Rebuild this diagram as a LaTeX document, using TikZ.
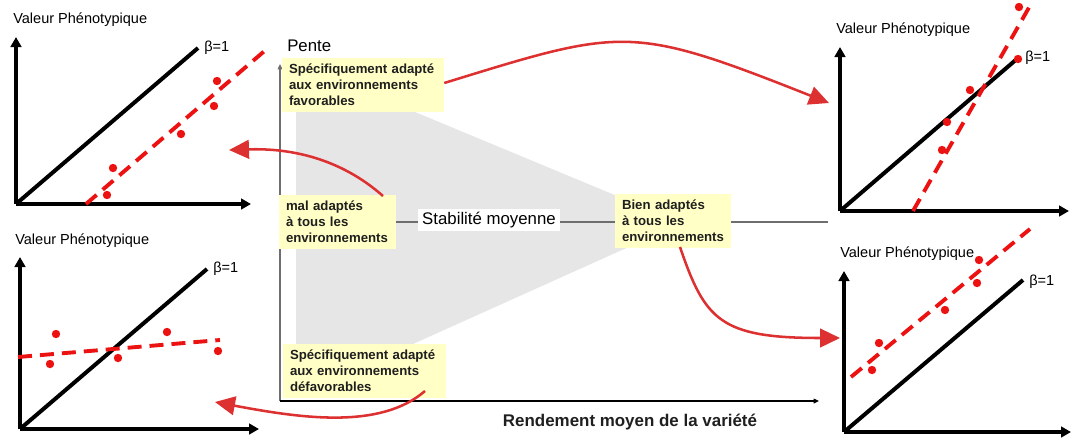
\documentclass[tikz,border=0pt]{standalone}
\usepackage{fontspec}
\setmainfont{Liberation Sans}
\usetikzlibrary{arrows.meta}
\pgfdeclarelayer{bg}
\pgfsetlayers{bg,main}
\definecolor{boxyellow}{HTML}{FFFFC6}
\definecolor{areagray}{HTML}{E6E6E6}
\definecolor{curvered}{RGB}{221,48,48}
\definecolor{dotred}{RGB}{236,18,18}
\definecolor{axisgray}{HTML}{6E6E6E}
\begin{document}
\begin{tikzpicture}[x=0.75pt,y=-0.75pt,
  plotaxis/.style={line width=3pt,-{Triangle[length=7.5pt,width=8pt]}},
  refline/.style={line width=3pt},
  fitline/.style={dotred,line width=2.9pt,dash pattern=on 10.5pt off 6pt},
  obsdot/.style={circle,fill=dotred,inner sep=0pt,minimum size=6.3pt},
  plotlabel/.style={font=\fontsize{10.9}{13}\selectfont,inner sep=0pt,anchor=west},
  infobox/.style={fill=boxyellow,font=\bfseries\fontsize{9.9}{12}\selectfont,align=left,
    inner xsep=5.25pt,inner ysep=2pt,minimum height=40.5pt,text=black!88},
  redarrow/.style={curvered,line width=1.9pt,-{Triangle[length=15pt,width=14pt]}},
  mainaxis/.style={line width=0.9pt,-{Triangle[length=4pt,width=3.5pt]}}
]
\useasboundingbox (0,0) rectangle (1079,444);

% ---------------- central diagram ----------------
\node[infobox,text width=111pt] (fav) at (363,85)
  {Spécifiquement adapté\\aux environnements\\favorables};
\node[infobox,text width=77.25pt] (mal) at (337.5,222)
  {mal adaptés\\à tous les\\environnements};
\node[fill=white,inner xsep=3pt,inner ysep=2pt,font=\fontsize{12.6}{14}\selectfont] (stab) at (489,220)
  {Stabilité moyenne};
\node[infobox,text width=76.5pt] (bien) at (673,220.5)
  {Bien adaptés\\à tous les\\environnements};
\node[infobox,text width=111.75pt] (defav) at (364.5,371)
  {Spécifiquement adapté\\aux environnements\\défavorables};

\coordinate (lineend) at (828,222);
\coordinate (orig) at (280,401);
\coordinate (ytop) at (280,64);
\coordinate (xend) at (819,401);

\begin{pgfonlayer}{bg}
  \fill[areagray] (296,112) -- (415,112) -- (682,223) -- (413,344) -- (296,344) -- cycle;
  \draw[axisgray,line width=1.2pt] (mal.east) -- (lineend);
  \draw[mainaxis,axisgray] (orig) -- (ytop);
  \draw[mainaxis,black] (orig) -- (xend);
\end{pgfonlayer}

\node[font=\fontsize{12.6}{14}\selectfont,inner sep=0pt,anchor=west] (pente) at (287,46) {Pente};
\node[font=\bfseries\fontsize{12.7}{15}\selectfont,inner sep=0pt,text=black!88] (rend) at (630,422)
  {Rendement moyen de la variété};

% ---------------- top-left plot ----------------
\coordinate (o1) at (16,204);
\coordinate (y1) at (16,37);
\coordinate (x1) at (251,204);
\coordinate (r1) at (198,48);
\coordinate (f1a) at (86,204);
\coordinate (f1b) at (268,48);
\draw[plotaxis] (o1) -- (y1);
\draw[plotaxis] (o1) -- (x1);
\draw[refline] (o1) -- (r1);
\draw[fitline] (f1a) -- (f1b);
\node[obsdot] (d1a) at (113,168) {};
\node[obsdot] (d1b) at (107,195) {};
\node[obsdot] (d1c) at (181,134) {};
\node[obsdot] (d1d) at (214,106) {};
\node[obsdot] (d1e) at (217,81) {};
\node[plotlabel] (b1) at (204,48) {β=1};
\node[plotlabel] (v1) at (13,20) {Valeur Phénotypique};

% ---------------- bottom-left plot ----------------
\coordinate (o2) at (20,429);
\coordinate (y2) at (20,257);
\coordinate (x2) at (259,429);
\coordinate (r2) at (207,269);
\coordinate (f2a) at (18,357);
\coordinate (f2b) at (220,340);
\draw[plotaxis] (o2) -- (y2);
\draw[plotaxis] (o2) -- (x2);
\draw[refline] (o2) -- (r2);
\draw[fitline] (f2a) -- (f2b);
\node[obsdot] (d2a) at (56,334) {};
\node[obsdot] (d2b) at (50,364) {};
\node[obsdot] (d2c) at (118,358) {};
\node[obsdot] (d2d) at (167,332) {};
\node[obsdot] (d2e) at (218,351) {};
\node[plotlabel] (b2) at (213,269) {β=1};
\node[plotlabel] (v2) at (15,241) {Valeur Phénotypique};

% ---------------- top-right plot ----------------
\coordinate (o3) at (840,211);
\coordinate (y3) at (840,47);
\coordinate (x3) at (1069,211);
\coordinate (r3) at (1018,58);
\coordinate (f3a) at (913,211);
\coordinate (f3b) at (1031,4);
\draw[plotaxis] (o3) -- (y3);
\draw[plotaxis] (o3) -- (x3);
\draw[refline] (o3) -- (r3);
\draw[fitline] (f3a) -- (f3b);
\node[obsdot] (d3a) at (1019,7) {};
\node[obsdot] (d3b) at (1018,59) {};
\node[obsdot] (d3c) at (970,90) {};
\node[obsdot] (d3d) at (947,122) {};
\node[obsdot] (d3e) at (942,150) {};
\node[plotlabel] (b3) at (1025,58) {β=1};
\node[plotlabel] (v3) at (836,30) {Valeur Phénotypique};

% ---------------- bottom-right plot ----------------
\coordinate (o4) at (844,432);
\coordinate (y4) at (844,271);
\coordinate (x4) at (1071,432);
\coordinate (r4) at (1023,280);
\coordinate (f4a) at (851,377);
\coordinate (f4b) at (1030,229);
\draw[plotaxis] (o4) -- (y4);
\draw[plotaxis] (o4) -- (x4);
\draw[refline] (o4) -- (r4);
\draw[fitline] (f4a) -- (f4b);
\node[obsdot] (d4a) at (979,260) {};
\node[obsdot] (d4b) at (977,283) {};
\node[obsdot] (d4c) at (945,310) {};
\node[obsdot] (d4d) at (879,343) {};
\node[obsdot] (d4e) at (872,370) {};
\node[plotlabel] (b4) at (1029,282) {β=1};
\node[plotlabel] (v4) at (840,254) {Valeur Phénotypique};

% ---------------- red connectors ----------------
\coordinate (t1) at (829,103);
\coordinate (t2) at (229,150);
\coordinate (t3) at (840,338);
\coordinate (t4) at (215,402);
\draw[redarrow] (fav.east |- 0,83) .. controls (623,28) and (630,24) .. (t1);
\draw[redarrow] (383,196) .. controls (340,158) and (290,148) .. (t2);
\draw[redarrow] (680,247) .. controls (705,320) and (720,338) .. (t3);
\draw[redarrow] (425,391) .. controls (380,430) and (300,418) .. (t4);
\end{tikzpicture}
\end{document}
